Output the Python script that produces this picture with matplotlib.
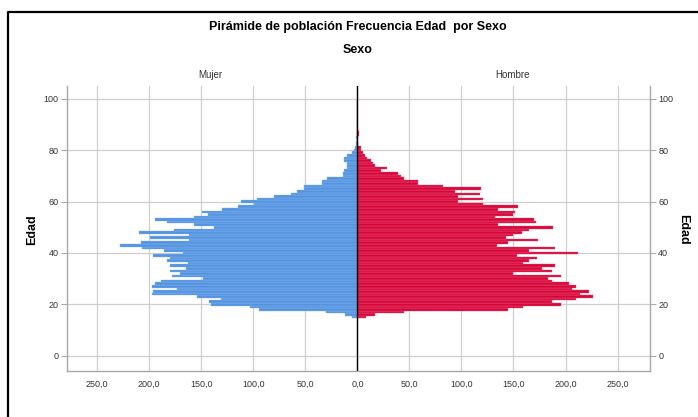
import numpy as np
import matplotlib
matplotlib.use('Agg')
from matplotlib import pyplot as plt
from matplotlib.lines import Line2D
from matplotlib.ticker import FuncFormatter

plt.rcParams['font.family'] = ['Liberation Sans', 'DejaVu Sans']

# edades de 15 a 99
edades = list(range(15, 100))

mujer = [5, 12, 30, 95, 103, 141, 143, 131, 154, 197,
         196, 173, 197, 194, 189, 148, 178, 170, 180, 165,
         180, 163, 183, 180, 196, 168, 186, 207, 228, 208,
         162, 199, 162, 210, 176, 138, 157, 183, 194, 157,
         144, 149, 130, 115, 99, 112, 96, 80, 64, 58,
         51, 51, 34, 34, 29, 14, 14, 13, 10, 10,
         10, 13, 13, 10, 5, 3, 2, 1, 1, 0,
         1, 0, 0, 0, 0, 0, 0, 0, 0, 0,
         0, 0, 0, 0, 0]

hombre = [8, 17, 45, 145, 159, 196, 187, 210, 226, 214,
          223, 206, 210, 203, 187, 183, 196, 150, 187, 177,
          190, 159, 165, 173, 153, 212, 165, 190, 134, 145,
          174, 143, 150, 158, 165, 188, 135, 172, 170, 132,
          150, 151, 135, 154, 121, 97, 121, 97, 118, 94,
          119, 82, 58, 58, 45, 42, 39, 23, 28, 17,
          15, 13, 9, 7, 5, 3, 3, 1, 1, 0,
          1, 2, 2, 1, 0, 0, 0, 0, 0, 0,
          0, 0, 0, 0, 0]

xticks = [-250, -200, -150, -100, -50, 0, 50, 100, 150, 200, 250]
yticks = [0, 20, 40, 60, 80, 100]

azul = '#5393e0'
rojo = '#d6083b'
gris = '#cfcfcf'

fig = plt.figure(figsize=(6.98, 4.17), dpi=100)
ax = fig.add_axes([0.096, 0.110, 0.835, 0.684])

ax.barh(edades, -np.array(mujer), height=1.0, color=azul,
        edgecolor='#8cb8ec', linewidth=0.3, zorder=3)
ax.barh(edades, hombre, height=1.0, color=rojo,
        edgecolor='#e8597a', linewidth=0.3, zorder=3)

ax.set_xlim(-279, 281)
ax.set_ylim(-6, 105)
ax.set_xticks(xticks)
ax.set_yticks(yticks)
ax.xaxis.set_major_formatter(FuncFormatter(lambda v, p: ('%.1f' % abs(v)).replace('.', ',')))
ax.grid(True, color=gris, linewidth=0.9, zorder=0)
ax.axvline(0, color='black', linewidth=1.0, zorder=4)

for s in ['left', 'right', 'bottom']:
    ax.spines[s].set_color('#a8a8a8')
    ax.spines[s].set_linewidth(1.0)
ax.spines['top'].set_visible(False)

ax.tick_params(axis='x', length=0, labelsize=6.5, colors='#333333', pad=6)
ax.tick_params(axis='y', length=4, color='#a8a8a8', labelsize=6.5,
               labelcolor='#333333', pad=2)

ax2 = ax.twinx()
ax2.set_ylim(ax.get_ylim())
ax2.set_yticks(yticks)
ax2.tick_params(axis='y', length=4, color='#a8a8a8', labelsize=6.5,
                labelcolor='#333333', pad=2)
for s in ax2.spines.values():
    s.set_visible(False)

fig.text(0.512, 0.935, 'Pirámide de población Frecuencia Edad  por Sexo',
         ha='center', va='center', fontsize=9, fontweight='bold')
fig.text(0.512, 0.880, 'Sexo', ha='center', va='center', fontsize=9, fontweight='bold')
fig.text(0.301, 0.821, 'Mujer', ha='center', va='center', fontsize=7, color='#333333')
fig.text(0.734, 0.821, 'Hombre', ha='center', va='center', fontsize=7, color='#333333')
fig.text(0.046, 0.45, 'Edad', ha='center', va='center', fontsize=9,
         fontweight='bold', rotation=90)
fig.text(0.979, 0.45, 'Edad', ha='center', va='center', fontsize=9,
         fontweight='bold', rotation=-90)

# marco exterior
fig.add_artist(Line2D([0.0115, 0.0115, 1.0], [0.0, 0.971, 0.971],
                      transform=fig.transFigure, color='black', linewidth=1.6))

fig.savefig('out.png', dpi=100)
